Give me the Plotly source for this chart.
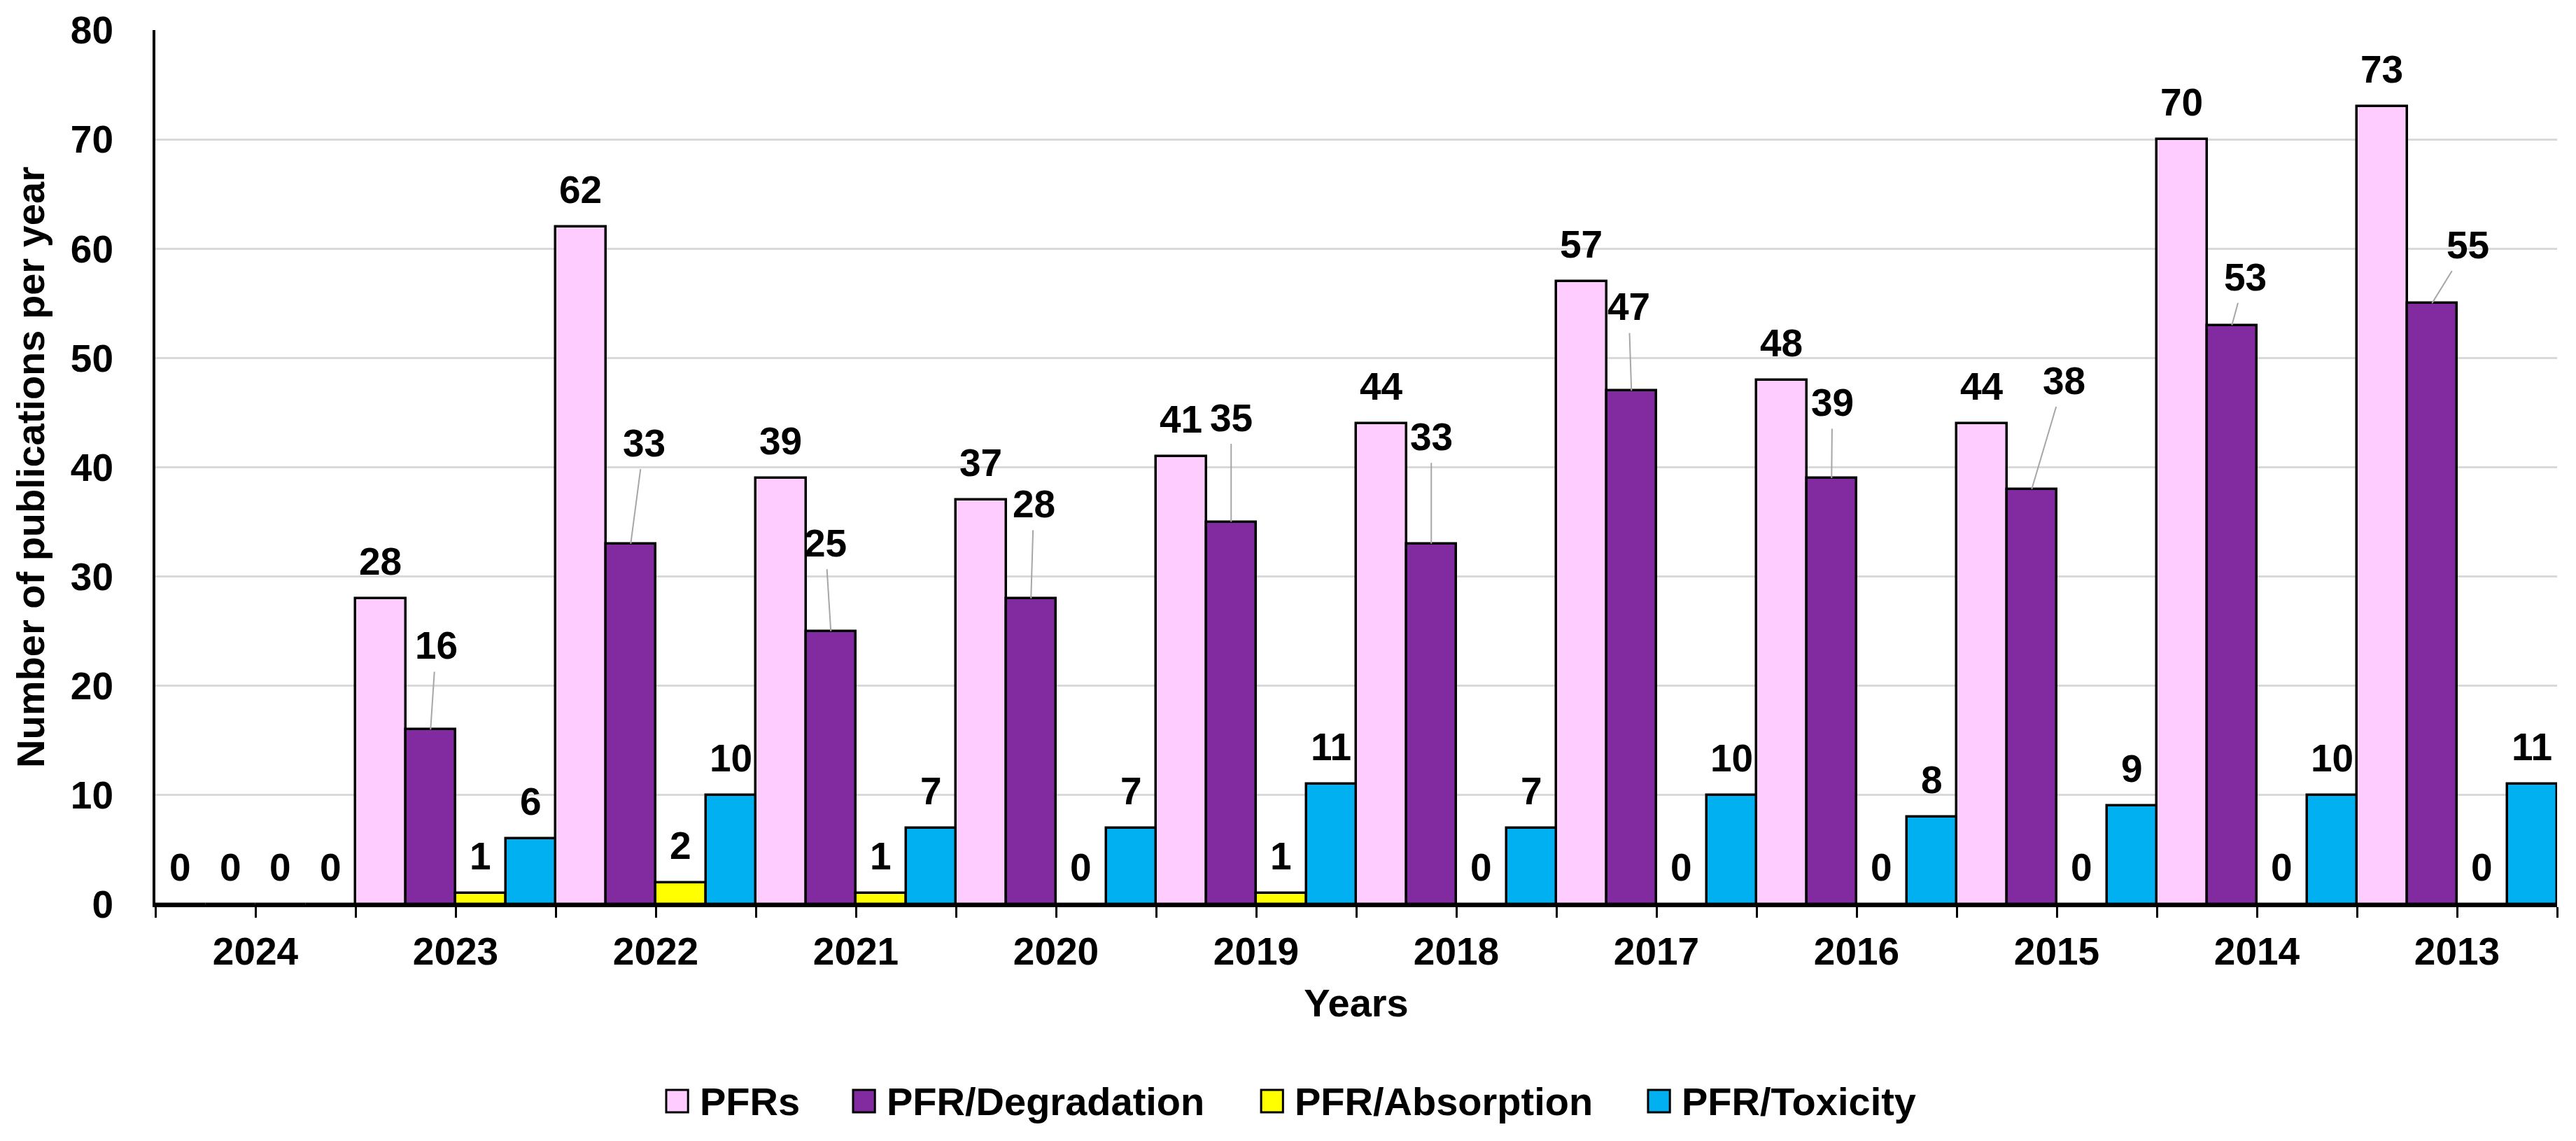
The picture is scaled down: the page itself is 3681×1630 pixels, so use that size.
import plotly.graph_objects as go

# ---------------- data ----------------
years = ["2024", "2023", "2022", "2021", "2020", "2019", "2018", "2017", "2016", "2015", "2014", "2013"]
series_names = ["PFRs", "PFR/Degradation", "PFR/Absorption", "PFR/Toxicity"]
pfrs        = [0, 28, 62, 39, 37, 41, 44, 57, 48, 44, 70, 73]
degradation = [0, 16, 33, 25, 28, 35, 33, 47, 39, 38, 53, 55]
absorption  = [0, 1, 2, 1, 0, 1, 0, 0, 0, 0, 0, 0]
toxicity    = [0, 6, 10, 7, 7, 11, 7, 10, 8, 9, 10, 11]
y_ticks = [0, 10, 20, 30, 40, 50, 60, 70, 80]

# ---------------- styles ----------------
colors = ["#FFCCFF", "#822BA0", "#FFFF00", "#00B0F0"]
# pixel offsets of the PFR/Degradation callout labels (label centre relative to bar top)
deg_label_dx = [0, 8, 19, -8, 4, 0, 0, -4, 1, 46, 19, 51]
deg_label_dy = [-53, -120, -144, -126, -135, -149, -153, -120, -108, -155, -69, -83]

FONT = "Liberation Sans"
TICK_SIZE = 55
LABEL_SIZE = 55
TITLE_SIZE = 56

all_series = [pfrs, degradation, absorption, toxicity]
n = len(series_names)
xpos = list(range(len(years)))
bar_w = 1.0 / n
offsets = [(-0.5 + bar_w * (j + 0.5)) for j in range(n)]

fig = go.Figure()
for j, (name, vals) in enumerate(zip(series_names, all_series)):
    fig.add_trace(go.Bar(
        x=xpos, y=vals, name=name,
        marker=dict(color=colors[j], line=dict(color="black", width=3.5)),
        showlegend=False,
    ))

annotations = []
for j, vals in enumerate(all_series):
    for i, v in enumerate(vals):
        xa = xpos[i] + offsets[j]
        if j == 1 and v > 0:
            annotations.append(dict(
                x=xa, y=v, xref="x", yref="y", text=str(v),
                showarrow=True, arrowhead=0, arrowwidth=2, arrowcolor="#A6A6A6",
                ax=deg_label_dx[i], ay=deg_label_dy[i], standoff=0, startstandoff=6, borderpad=0,
                font=dict(family=FONT, size=LABEL_SIZE, color="black", weight="bold"),
            ))
        else:
            annotations.append(dict(
                x=xa, y=v, xref="x", yref="y", text=str(v), showarrow=False,
                yanchor="middle", yshift=53,
                font=dict(family=FONT, size=LABEL_SIZE, color="black", weight="bold"),
            ))

# manual legend (square swatches + labels), positions in paper units
leg_sq_x0 = [0.2127, 0.2905, 0.4604, 0.6215]
leg_sq_w = 0.0091
leg_text_gap = 0.0134
leg_y = -0.2250
leg_sq_h = 0.0256
shapes = []
for j, name in enumerate(series_names):
    shapes.append(dict(type="rect", xref="paper", yref="paper",
                       x0=leg_sq_x0[j], x1=leg_sq_x0[j] + leg_sq_w,
                       y0=leg_y - leg_sq_h / 2, y1=leg_y + leg_sq_h / 2,
                       fillcolor=colors[j], line=dict(color="black", width=3)))
    annotations.append(dict(x=leg_sq_x0[j] + leg_text_gap, y=leg_y, xref="paper", yref="paper",
                            text=name, showarrow=False, xanchor="left", yanchor="middle",
                            font=dict(family=FONT, size=TITLE_SIZE, color="black", weight="bold")))

fig.update_layout(
    width=3681, height=1630,
    margin=dict(l=222, r=27, t=43, b=338),
    paper_bgcolor="white", plot_bgcolor="white",
    barmode="group", bargap=0, bargroupgap=0,
    font=dict(family=FONT, color="black"),
    annotations=annotations, shapes=shapes,
    showlegend=False,
)
fig.update_xaxes(
    range=[-0.5, len(years) - 0.5],
    tickmode="array", tickvals=xpos, ticktext=years,
    tickfont=dict(family=FONT, size=TICK_SIZE, color="black", weight="bold"),
    ticks="outside", ticklen=15, tickwidth=3, tickcolor="black",
    minor=dict(ticks="outside", ticklen=15, tickwidth=3, tickcolor="black", tick0=-0.5, dtick=1, showgrid=False),
    showline=True, linecolor="black", linewidth=4,
    showgrid=False, zeroline=False,
    ticklabelstandoff=1,
    title=dict(text="Years", font=dict(family=FONT, size=TITLE_SIZE, color="black", weight="bold"), standoff=25),
)
fig.update_yaxes(
    range=[0, 80], tickmode="array", tickvals=y_ticks,
    tickfont=dict(family=FONT, size=TICK_SIZE, color="black", weight="bold"),
    ticks="", showline=True, linecolor="black", linewidth=4,
    showgrid=True, gridcolor="#D9D9D9", gridwidth=3, zeroline=False,
    ticklabelstandoff=45,
    title=dict(text="Number of publications per year", font=dict(family=FONT, size=TITLE_SIZE, color="black", weight="bold"), standoff=20),
)

fig.write_html("out.html", config={"displayModeBar": False},
               post_script="document.body.style.margin='0';document.body.style.overflow='hidden';")
